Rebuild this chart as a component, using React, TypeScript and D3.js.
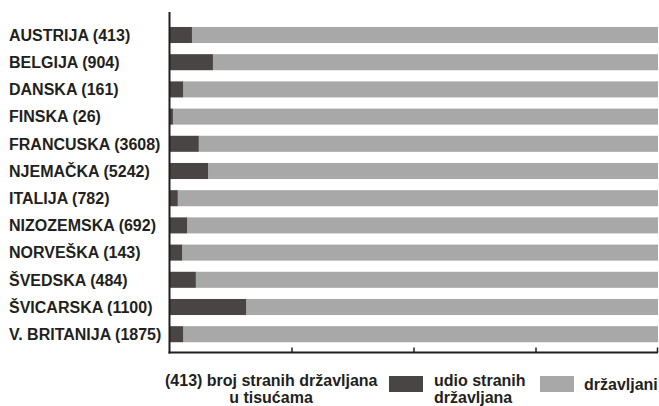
import * as d3 from "d3";

const countries = [
  "AUSTRIJA (413)",
  "BELGIJA (904)",
  "DANSKA (161)",
  "FINSKA (26)",
  "FRANCUSKA (3608)",
  "NJEMAČKA (5242)",
  "ITALIJA (782)",
  "NIZOZEMSKA (692)",
  "NORVEŠKA (143)",
  "ŠVEDSKA (484)",
  "ŠVICARSKA (1100)",
  "V. BRITANIJA (1875)",
];

// udio stranih državljana, % of population
const foreignShare = [4.5, 8.8, 2.7, 0.6, 5.9, 7.8, 1.6, 3.5, 2.5, 5.3, 15.6, 2.7];

const xTicks = [0, 25, 50, 75, 100];

const DARK = "#4a4545";
const LIGHT = "#a8a8a8";
const AXIS = "#231f20";
const FONT = "'Liberation Sans', Arial, sans-serif";

const W = 659;
const H = 406;

export default function App() {
  const x = d3.scaleLinear().domain([0, 100]).range([170, 658]);
  const y = d3
    .scaleBand<string>()
    .domain(countries)
    .range([21.4, 347.8])
    .paddingInner(0.41)
    .paddingOuter(0.205);

  const rows = countries.map((c, i) => ({ name: c, share: foreignShare[i] }));
  const axisY = 352.5;

  return (
    <svg
      width={W}
      height={H}
      style={{ position: "absolute", left: 0, top: 0 }}
      fontFamily={FONT}
      fontWeight="bold"
    >
      <rect width={W} height={H} fill="#fff" />
      {rows.map((r) => (
        <g key={r.name}>
          <text x={9} y={y(r.name)! + y.bandwidth() / 2} dy="0.36em" fontSize={16} fill={AXIS}>
            {r.name}
          </text>
          <rect
            x={x(r.share)}
            y={y(r.name)}
            width={x(100) - x(r.share)}
            height={y.bandwidth()}
            fill={LIGHT}
          />
          <rect
            x={x(0)}
            y={y(r.name)}
            width={x(r.share) - x(0)}
            height={y.bandwidth()}
            fill={DARK}
          />
        </g>
      ))}
      {/* axes */}
      <line x1={169.5} x2={169.5} y1={12} y2={axisY + 1} stroke={AXIS} strokeWidth={2} />
      <line x1={168.5} x2={x(100)} y1={axisY} y2={axisY} stroke={AXIS} strokeWidth={2} />
      {xTicks.slice(1).map((t) => (
        <line
          key={t}
          x1={t === 100 ? x(t) - 0.5 : x(t)}
          x2={t === 100 ? x(t) - 0.5 : x(t)}
          y1={axisY - 5}
          y2={axisY}
          stroke={AXIS}
          strokeWidth={1.5}
        />
      ))}
      {/* legend */}
      <g fontSize={16} fill={AXIS}>
        <text x={165} y={386}>(413) broj stranih državljana</text>
        <text x={271} y={403} textAnchor="middle">u tisućama</text>
        <rect x={389} y={376} width={34} height={16} fill={DARK} />
        <text x={434} y={386}>udio stranih</text>
        <text x={434} y={403}>državljana</text>
        <rect x={540} y={376} width={34} height={16} fill={LIGHT} />
        <text x={584} y={390}>državljani</text>
      </g>
    </svg>
  );
}
